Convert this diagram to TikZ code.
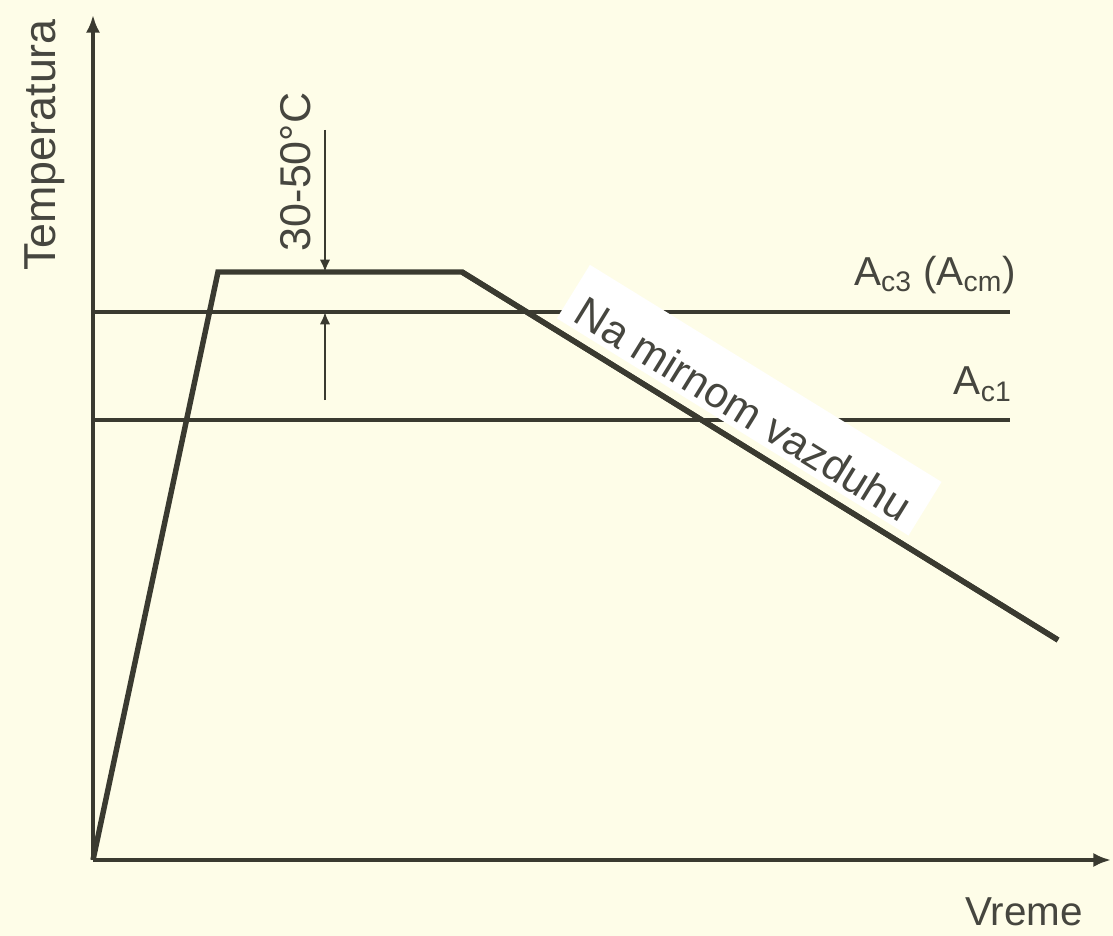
\documentclass[tikz,border=0pt]{standalone}
\usepackage{fontspec}
\setmainfont{Liberation Sans}
\usetikzlibrary{arrows.meta}
\definecolor{paper}{HTML}{FEFDE8}
\definecolor{ink}{HTML}{3A3A30}
\definecolor{lettering}{HTML}{46463F}
\tikzset{
  axis/.style={line width=2pt, ink, -{Latex[length=10pt,width=8pt]}},
  level/.style={line width=2pt, ink},
  curve/.style={line width=3.1pt, ink, line join=miter},
  dimline/.style={line width=1.6pt, ink, -{Latex[length=7pt,width=6pt]}},
  lbl/.style={text=lettering, font=\fontsize{23}{27}\selectfont, inner sep=0pt},
  tag/.style={lbl, font=\fontsize{24.5}{29}\selectfont, fill=white, inner xsep=8pt, inner ysep=0pt}
}

\begin{document}
\begin{tikzpicture}[x=0.02cm, y=-0.02cm]
  \fill[paper] (0,0) rectangle (1113,936);
  \useasboundingbox (0,0) rectangle (1113,936);

  % axes
  \coordinate (O) at (93,860);
  \coordinate (ytip) at (93,15);
  \coordinate (xtip) at (1111,860);
  \draw[axis] (O) -- (ytip);
  \draw[axis] (O) -- (xtip);
  \node[lbl, font=\fontsize{25.5}{29}\selectfont, rotate=90] (ylab) at (45,145) {Temperatura};
  \node[lbl] (xlab) at (1024,912) {Vreme};

  % critical temperatures
  \coordinate (c3a) at (93,312);
  \coordinate (c3b) at (1010,312);
  \coordinate (c1a) at (93,420);
  \coordinate (c1b) at (1010,420);
  \draw[level] (c3a) -- (c3b);
  \draw[level] (c1a) -- (c1b);
  \node[lbl, anchor=south east] (ac3) at (1016,294) {A\textsubscript{c3} (A\textsubscript{cm})};
  \node[lbl, anchor=south east] (ac1) at (1012,402) {A\textsubscript{c1}};

  % heating, holding, cooling
  \coordinate (P1) at (218,272);
  \coordinate (P2) at (462,272);
  \coordinate (P3) at (1058,640);
  \draw[curve] (O) -- (P1) -- (P2) -- (P3);
  \path (P2) -- (P3) node[tag, sloped, above=0.2cm, pos=0.445] (air)
    {\rule[-0.12cm]{0pt}{1.26cm}Na mirnom vazduhu};
  \draw[curve] (P2) -- (P3);

  % overheating range
  \coordinate (d1) at (325,130);
  \coordinate (d2) at (325,272);
  \coordinate (d3) at (325,400);
  \coordinate (d4) at (325,312);
  \draw[dimline] (d1) -- (d2);
  \draw[dimline] (d3) -- (d4);
  \node[lbl, font=\fontsize{24.5}{29}\selectfont, rotate=90] (range) at (296,172) {30-50°C};
\end{tikzpicture}
\end{document}
